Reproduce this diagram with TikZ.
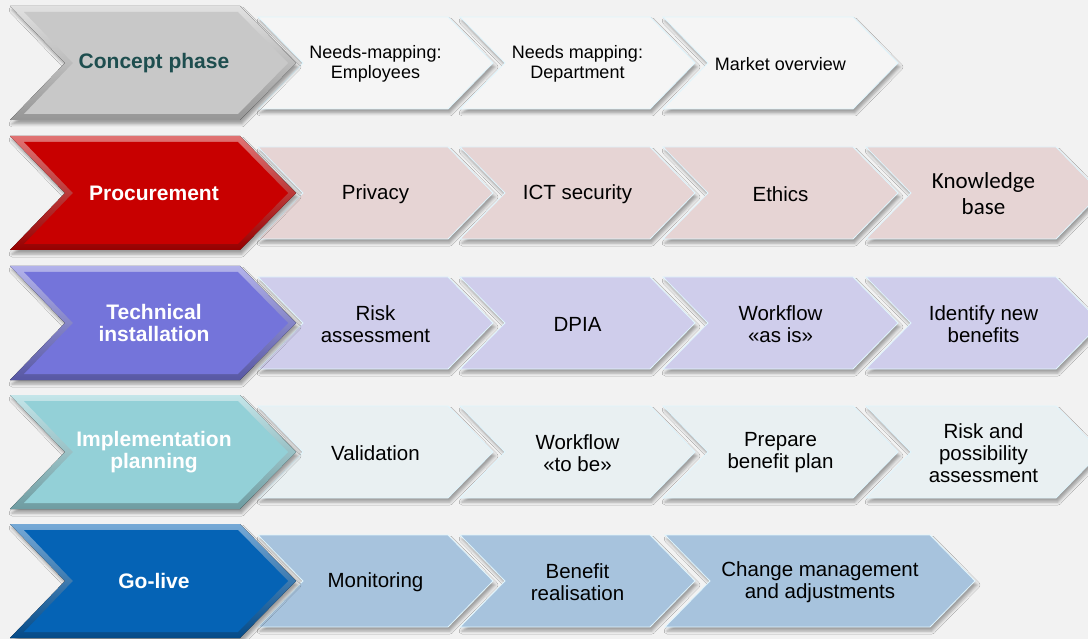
\documentclass[tikz,border=0pt]{standalone}
\usepackage{fontspec}
\setmainfont{Liberation Sans}
\newfontfamily\calibri{Carlito}
\usetikzlibrary{shadows.blur}

\definecolor{bgGrey}{HTML}{F2F2F2}
\definecolor{conceptMain}{HTML}{C8C8C8}
\definecolor{conceptText}{HTML}{1E4E4F}
\definecolor{conceptSub}{HTML}{F5F5F5}
\definecolor{procMain}{HTML}{C80000}
\definecolor{procSub}{HTML}{E6D4D4}
\definecolor{techMain}{HTML}{7474DA}
\definecolor{techSub}{HTML}{CFCDEB}
\definecolor{implMain}{HTML}{93D0D7}
\definecolor{implSub}{HTML}{E9F0F2}
\definecolor{liveMain}{HTML}{0563B5}
\definecolor{liveSub}{HTML}{A7C3DD}

\tikzset{
  subtext/.style={align=center, font=\fontsize{20.5}{22}\selectfont},
  phasetext/.style={align=center, font=\bfseries\fontsize{21}{22}\selectfont},
  softshadow/.style={blur shadow={shadow xshift=2pt, shadow yshift=-4pt, shadow blur radius=3pt, shadow opacity=35}}
}

% small chevron: [node options] x0, y centre, width, fill, name, text
\newcommand{\subchev}[7][]{%
  \fill[#5, draw=white!88!cyan, line width=0.8pt, softshadow]
    (#2,#3-46) -- (#2+#4-45,#3-46) -- (#2+#4,#3) -- (#2+#4-45,#3+46)
    -- (#2,#3+46) -- (#2+45,#3) -- cycle;
  \node[subtext,#1] (#6) at (#2+#4/2,#3+1) {#7};
}

% bevelled phase chevron: y centre, colour, name, text colour, text
\newcommand{\phase}[5]{%
  \fill[softshadow, top color=#2!55!white, bottom color=#2!75!black]
    (10,#1-57) -- (240,#1-57) -- (296,#1) -- (240,#1+57)
    -- (10,#1+57) -- (65,#1) -- cycle;
  \fill[#2]
    (24,#1-51) -- (238,#1-51) -- (288,#1) -- (238,#1+51)
    -- (24,#1+51) -- (73,#1) -- cycle;
  \node[phasetext, text=#4] (#3) at (154,#1) {#5};
}

\begin{document}
\begin{tikzpicture}[x=1pt, y=-1pt]
    \fill[bgGrey] (0,0) rectangle (1088,639);
    \useasboundingbox (0,0) rectangle (1088,639);

    % concept phase
    \begin{scope}[subtext/.style={align=center, font=\fontsize{18}{20}\selectfont}]
    \subchev{258}{63}{235}{conceptSub}{needsEmp}{Needs-mapping:\\Employees}
    \subchev{460}{63}{235}{conceptSub}{needsDept}{Needs mapping:\\Department}
    \subchev{663}{63}{235}{conceptSub}{market}{Market overview}
    \end{scope}
    \phase{63}{conceptMain}{concept}{conceptText}{Concept phase}

    % procurement
    \subchev{258}{193}{235}{procSub}{privacy}{Privacy}
    \subchev{460}{193}{235}{procSub}{ictSec}{ICT security}
    \subchev{663}{193}{235}{procSub}{ethics}{Ethics}
    \subchev[font=\calibri\fontsize{23}{26}\selectfont]{866}{193}{235}{procSub}{knowledge}{Knowledge\\base}
    \phase{193}{procMain}{procurement}{white}{Procurement}

    % technical installation
    \subchev{258}{323}{235}{techSub}{risk}{Risk\\assessment}
    \subchev{460}{323}{235}{techSub}{dpia}{DPIA}
    \subchev{663}{323}{235}{techSub}{wfAsIs}{Workflow\\«as is»}
    \subchev{866}{323}{235}{techSub}{newBenefits}{Identify new\\benefits}
    \phase{323}{techMain}{technical}{white}{Technical\\installation}

    % implementation planning
    \subchev{258}{452}{235}{implSub}{validation}{Validation}
    \subchev{460}{452}{235}{implSub}{wfToBe}{Workflow\\«to be»}
    \subchev{663}{452}{235}{implSub}{benefitPlan}{Prepare\\benefit plan}
    \subchev{866}{452}{235}{implSub}{riskPoss}{Risk and\\possibility\\assessment}
    \phase{452}{implMain}{implementation}{white}{Implementation\\planning}

    % go-live
    \subchev{258}{581}{235}{liveSub}{monitoring}{Monitoring}
    \subchev{460}{581}{235}{liveSub}{realisation}{Benefit\\realisation}
    \subchev{665}{581}{310}{liveSub}{change}{Change management\\and adjustments}
    \phase{581}{liveMain}{golive}{white}{Go-live}
\end{tikzpicture}
\end{document}
